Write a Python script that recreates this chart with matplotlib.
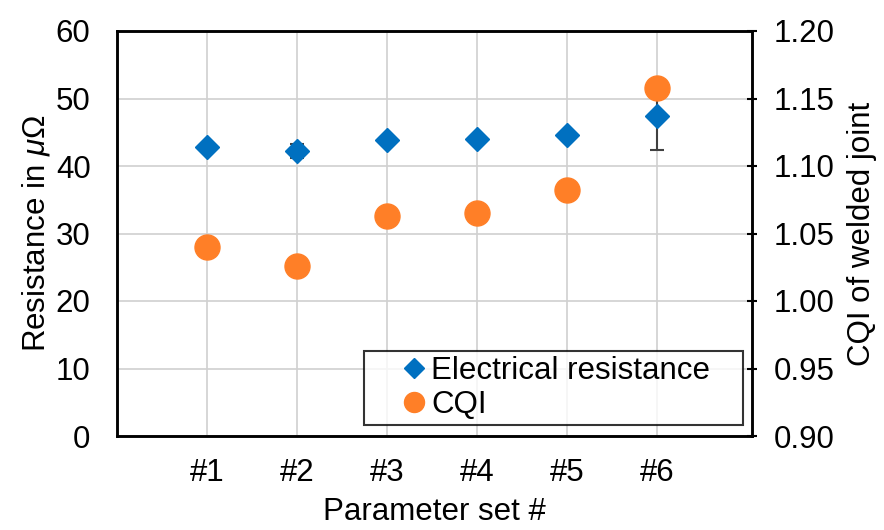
import matplotlib
matplotlib.use("Agg")
import matplotlib.pyplot as plt
import numpy as np

plt.rcParams['font.family'] = ['Liberation Sans', 'DejaVu Sans']
plt.rcParams['mathtext.fontset'] = 'custom'
plt.rcParams['mathtext.rm'] = 'Liberation Sans'
plt.rcParams['mathtext.it'] = 'Liberation Sans:italic'

categories = ["#1", "#2", "#3", "#4", "#5", "#6"]
resistance = [42.8, 42.2, 43.8, 44.0, 44.6, 47.4]
resistance_err = [0.0, 1.0, 0.0, 0.0, 0.0, 5.1]
cqi = [1.040, 1.026, 1.063, 1.065, 1.082, 1.158]
cqi_ticks = [0.90, 0.95, 1.00, 1.05, 1.10, 1.15, 1.20]

FS = 22.5

fig = plt.figure(figsize=(8.84, 5.30), dpi=100)
ax = fig.add_axes([117/884, 1-436/530, (752-117)/884, (436-31)/530])
ax2 = ax.twinx()

x = np.arange(1, len(categories) + 1)

ax.set_xlim(0, 7.05)
ax.set_ylim(0, 60)
ax.set_yticks(np.arange(0, 61, 10))
ax.set_xticks(x)
ax.set_xticklabels(categories)
ax.grid(True, color='#d0d0d0', linewidth=1.2)
ax.set_axisbelow(True)

ax2.set_ylim(0.90, 1.20)
ax2.set_yticks(cqi_ticks)
ax2.set_yticklabels([f"{v:.2f}" for v in cqi_ticks])

blue = '#0070c0'
orange = '#ff7f27'

ax.errorbar(x, resistance, yerr=resistance_err, fmt='none', ecolor='#404040',
            elinewidth=1.5, capsize=5, capthick=1.5, zorder=3)
ax.plot(x, resistance, linestyle='none', marker='D', markersize=12.5,
        color=blue, zorder=4, label='Electrical resistance')
ax2.plot(x, cqi, linestyle='none', marker='o', markersize=18,
         color=orange, zorder=4, label='CQI')

for a in (ax, ax2):
    for s in a.spines.values():
        s.set_linewidth(1.8)
        s.set_color('black')

ax.tick_params(axis='y', length=0, labelsize=FS, pad=19)
ax.tick_params(axis='x', length=0, labelsize=FS, pad=16)
ax2.tick_params(axis='y', length=7, width=1.5, direction='inout', labelsize=FS, pad=12)

ax.set_ylabel("Resistance in $\\mathit{\\mu}\\Omega$", fontsize=FS, labelpad=3)
ax2.set_ylabel("CQI of welded joint", fontsize=FS, labelpad=9)
ax.set_xlabel("Parameter set #", fontsize=FS, labelpad=6)

h1, l1 = ax.get_legend_handles_labels()
h2, l2 = ax2.get_legend_handles_labels()
leg = ax2.legend(h1 + h2, l1 + l2, loc='lower left',
                 bbox_to_anchor=(0.389, 0.027, 0.597, 0.18), mode='expand',
                 fontsize=FS, frameon=True, fancybox=False, edgecolor='black',
                 handlelength=2.9, handletextpad=-0.9, borderpad=0.15, labelspacing=0.15,
                 markerscale=0.8, borderaxespad=0)
leg.get_frame().set_linewidth(1.5)
leg.set_zorder(10)

fig.savefig("out.png", dpi=100)
